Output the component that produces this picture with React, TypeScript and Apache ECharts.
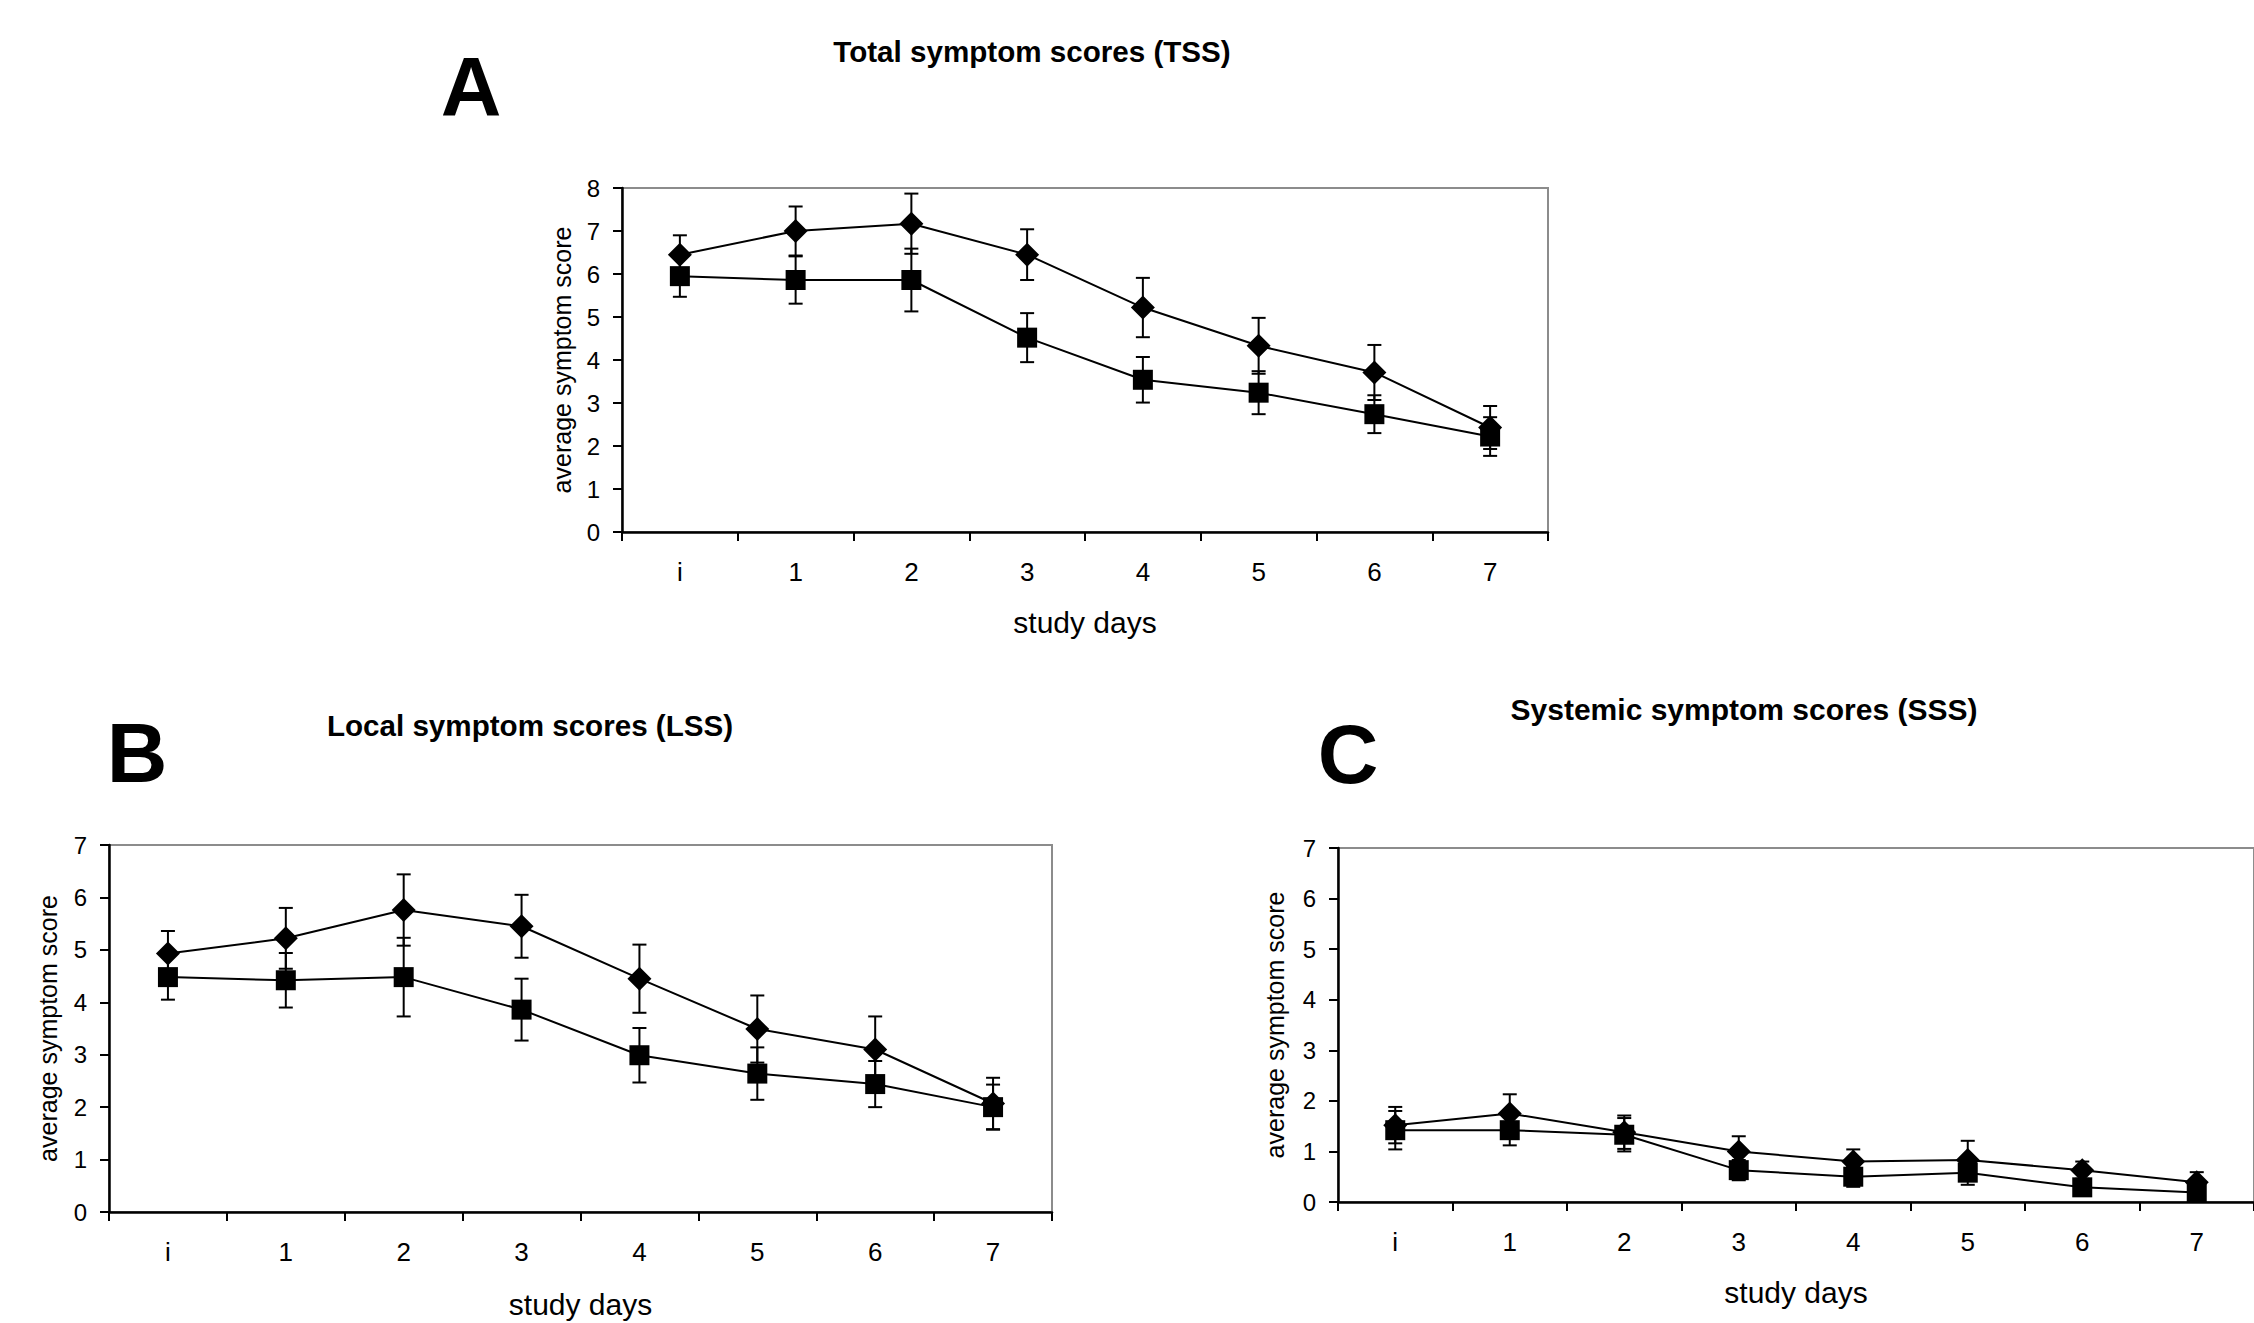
import React, { useEffect, useRef } from "react";
import * as echarts from "echarts";

const days = ["i", "1", "2", "3", "4", "5", "6", "7"];

// A: Total symptom scores
const tssDiamond = [6.45, 7.0, 7.17, 6.45, 5.22, 4.33, 3.71, 2.43];
const tssDiamondErr = [0.45, 0.57, 0.7, 0.59, 0.69, 0.65, 0.64, 0.5];
const tssSquare = [5.95, 5.86, 5.86, 4.52, 3.54, 3.24, 2.74, 2.22];
const tssSquareErr = [0.48, 0.55, 0.73, 0.57, 0.53, 0.5, 0.44, 0.45];

// B: Local symptom scores
const lssDiamond = [4.93, 5.22, 5.76, 5.45, 4.45, 3.49, 3.1, 2.07];
const lssDiamondErr = [0.43, 0.58, 0.68, 0.6, 0.65, 0.64, 0.63, 0.49];
const lssSquare = [4.48, 4.42, 4.48, 3.86, 2.99, 2.64, 2.44, 2.0];
const lssSquareErr = [0.43, 0.52, 0.75, 0.59, 0.52, 0.5, 0.44, 0.43];

// C: Systemic symptom scores
const sssDiamond = [1.52, 1.75, 1.38, 1.0, 0.8, 0.83, 0.63, 0.39];
const sssDiamondErr = [0.36, 0.38, 0.33, 0.3, 0.24, 0.38, 0.17, 0.2];
const sssSquare = [1.42, 1.42, 1.33, 0.63, 0.5, 0.58, 0.29, 0.19];
const sssSquareErr = [0.38, 0.3, 0.33, 0.2, 0.2, 0.24, 0.14, 0.1];

const yMaxA = 8;
const yMaxB = 7;
const yMaxC = 7;

const titleA = "Total symptom scores (TSS)";
const titleB = "Local symptom scores (LSS)";
const titleC = "Systemic symptom scores (SSS)";
const xName = "study days";
const yName = "average symptom score";

const FONT = "'Liberation Sans', Arial, sans-serif";

function errorSeries(idx: number, vals: number[], errs: number[]) {
  return {
    type: "custom",
    xAxisIndex: idx,
    yAxisIndex: idx,
    silent: true,
    z: 1,
    encode: { x: 0, y: [1, 2] },
    data: vals.map((v, i) => [i, v - errs[i], v + errs[i]]),
    renderItem: (params: any, api: any) => {
      const x = api.value(0);
      const lo = api.coord([x, api.value(1)]);
      const hi = api.coord([x, api.value(2)]);
      const hw = 7;
      const st = { stroke: "#000", lineWidth: 2 };
      return {
        type: "group",
        children: [
          { type: "line", shape: { x1: lo[0], y1: lo[1], x2: hi[0], y2: hi[1] }, style: st },
          { type: "line", shape: { x1: lo[0] - hw, y1: lo[1], x2: lo[0] + hw, y2: lo[1] }, style: st },
          { type: "line", shape: { x1: hi[0] - hw, y1: hi[1], x2: hi[0] + hw, y2: hi[1] }, style: st },
        ],
      };
    },
  };
}

function lineSeries(idx: number, vals: number[], symbol: string, size: any) {
  return {
    type: "line",
    xAxisIndex: idx,
    yAxisIndex: idx,
    data: vals,
    symbol,
    symbolSize: size,
    showSymbol: true,
    z: 3,
    lineStyle: { color: "#000", width: 2 },
    itemStyle: { color: "#000", borderWidth: 0 },
  };
}

function xAxisCfg(idx: number, nameGap: number) {
  return {
    type: "category",
    gridIndex: idx,
    data: days,
    boundaryGap: true,
    name: xName,
    nameLocation: "middle",
    nameGap,
    nameTextStyle: { fontSize: 30, color: "#000", fontFamily: FONT },
    axisLine: { show: true, lineStyle: { color: "#000", width: 2.5 } },
    axisTick: { show: true, length: 9, interval: 0, alignWithLabel: false, lineStyle: { color: "#000", width: 2 } },
    axisLabel: { fontSize: 26, color: "#000", margin: 27, fontFamily: FONT, interval: 0 },
    splitLine: { show: false },
  };
}

function yAxisCfg(idx: number, max: number, nameGap: number) {
  return {
    type: "value",
    gridIndex: idx,
    min: 0,
    max,
    interval: 1,
    name: yName,
    nameLocation: "middle",
    nameGap,
    nameRotate: 90,
    nameTextStyle: { fontSize: 25, color: "#000", fontFamily: FONT },
    axisLine: { show: true, onZero: false, lineStyle: { color: "#000", width: 2.5 } },
    axisTick: { show: true, length: 9, lineStyle: { color: "#000", width: 2 } },
    axisLabel: { fontSize: 24, color: "#000", margin: 22, fontFamily: FONT },
    splitLine: { show: false },
  };
}

function textEl(text: string, x: number, y: number, size: number) {
  return {
    type: "text",
    x,
    y,
    style: {
      text,
      fill: "#000",
      fontSize: size,
      fontWeight: "bold",
      fontFamily: FONT,
      align: "center",
      verticalAlign: "middle",
      textAlign: "center",
      textVerticalAlign: "middle",
    },
  };
}

export default function App() {
  const ref = useRef<HTMLDivElement>(null);
  useEffect(() => {
    if (!ref.current) return;
    const chart = echarts.init(ref.current, undefined, { renderer: "svg" });
    const gridStyle = { show: true, borderColor: "#8c8c8c", borderWidth: 2, backgroundColor: "#fff" };
    chart.setOption({
      animation: false,
      backgroundColor: "#fff",
      grid: [
        { left: 622, top: 188, width: 926, height: 344, ...gridStyle },
        { left: 109, top: 845, width: 943, height: 367, ...gridStyle },
        { left: 1338, top: 848, width: 918, height: 354, ...gridStyle },
      ],
      xAxis: [xAxisCfg(0, 75), xAxisCfg(1, 77), xAxisCfg(2, 75)],
      yAxis: [yAxisCfg(0, yMaxA, 48), yAxisCfg(1, yMaxB, 49), yAxisCfg(2, yMaxC, 51)],
      graphic: [
        textEl(titleA, 1032, 51, 29.6),
        textEl(titleB, 530, 725, 29.6),
        textEl(titleC, 1744, 709, 30),
        textEl("A", 471, 87, 84),
        textEl("B", 137, 753, 84),
        textEl("C", 1348, 754, 84),
      ],
      series: [
        errorSeries(0, tssDiamond, tssDiamondErr),
        errorSeries(0, tssSquare, tssSquareErr),
        lineSeries(0, tssDiamond, "diamond", 24),
        lineSeries(0, tssSquare, "rect", 20),
        errorSeries(1, lssDiamond, lssDiamondErr),
        errorSeries(1, lssSquare, lssSquareErr),
        lineSeries(1, lssDiamond, "diamond", 24),
        lineSeries(1, lssSquare, "rect", 20),
        errorSeries(2, sssDiamond, sssDiamondErr),
        errorSeries(2, sssSquare, sssSquareErr),
        lineSeries(2, sssDiamond, "diamond", 24),
        lineSeries(2, sssSquare, "rect", 20),
      ],
    });
    return () => chart.dispose();
  }, []);
  return (
    <div
      ref={ref}
      style={{ position: "fixed", left: 0, top: 0, width: 2254, height: 1323, background: "#fff" }}
    />
  );
}
